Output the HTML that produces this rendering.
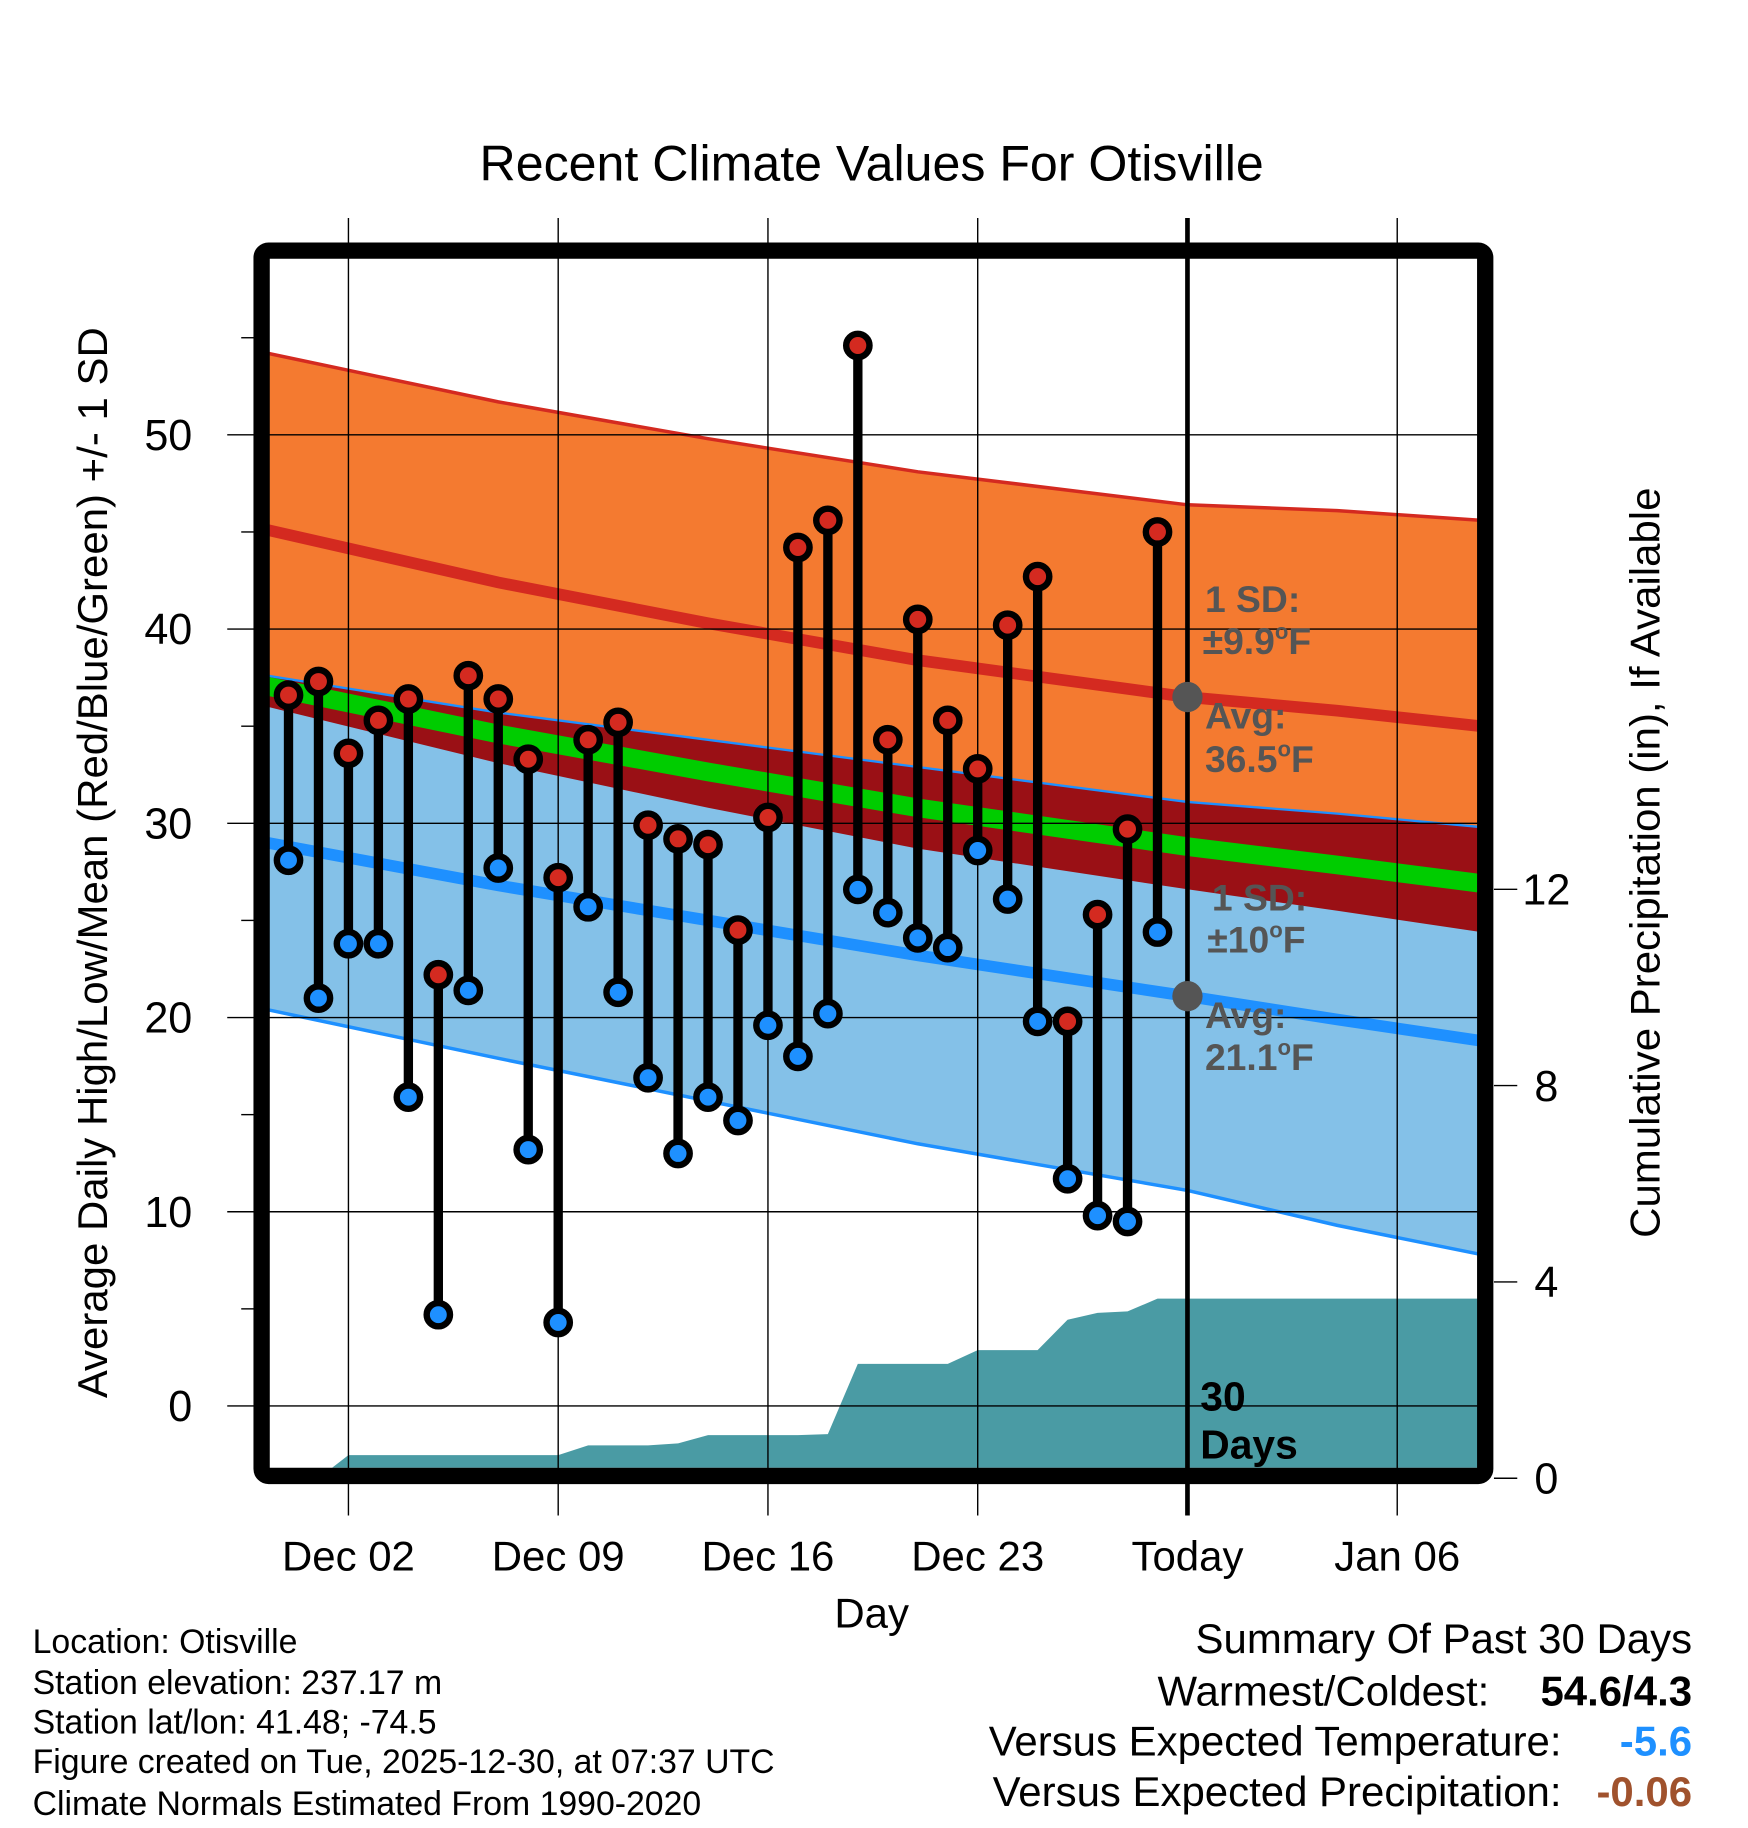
<!DOCTYPE html>
<html><head><meta charset="utf-8"><style>html,body{margin:0;padding:0;background:#fff}svg{display:block}text{font-family:"Liberation Sans",sans-serif}</style></head>
<body>
<svg id="chart" width="1748" height="1828" viewBox="0 0 1500 1568" preserveAspectRatio="none" xmlns="http://www.w3.org/2000/svg">
<defs><clipPath id="plotclip"><rect x="231" y="222" width="1037" height="1037"/></clipPath></defs>
<g id="plot" clip-path="url(#plotclip)"></g>
<g id="grid"></g>
<g id="marks"></g>
<rect x="224.5" y="215" width="1050" height="1051" rx="6" fill="none" stroke="#000" stroke-width="14"/>
<text x="748" y="155" font-size="43" text-anchor="middle">Recent Climate Values For Otisville</text>
<text transform="translate(92,740) rotate(-90)" font-size="36" text-anchor="middle">Average Daily High/Low/Mean (Red/Blue/Green) +/- 1 SD</text>
<text transform="translate(1424,740) rotate(-90)" font-size="36" text-anchor="middle">Cumulative Precipitation (in), If Available</text>
<text x="748" y="1396" font-size="36" text-anchor="middle">Day</text>
<g fill="#555" font-weight="bold" font-size="32">
<text x="1034" y="525">1 SD:</text>
<text x="1032" y="561">±9.9<tspan font-size="19" dy="-13">o</tspan><tspan dy="13">F</tspan></text>
<text x="1034" y="625">Avg:</text>
<text x="1034" y="662">36.5<tspan font-size="19" dy="-13">o</tspan><tspan dy="13">F</tspan></text>
<text x="1040" y="781">1 SD:</text>
<text x="1036" y="817">±10<tspan font-size="19" dy="-13">o</tspan><tspan dy="13">F</tspan></text>
<text x="1034" y="882">Avg:</text>
<text x="1034" y="918">21.1<tspan font-size="19" dy="-13">o</tspan><tspan dy="13">F</tspan></text>
</g>
<g font-weight="bold" font-size="35"><text x="1030" y="1210">30</text><text x="1030" y="1251">Days</text></g>
<g font-size="29">
<text x="28" y="1418">Location: Otisville</text>
<text x="28" y="1453">Station elevation: 237.17 m</text>
<text x="28" y="1487">Station lat/lon: 41.48; -74.5</text>
<text x="28" y="1521">Figure created on Tue, 2025-12-30, at 07:37 UTC</text>
<text x="28" y="1557">Climate Normals Estimated From 1990-2020</text>
</g>
<g font-size="36">
<text x="1452" y="1418" text-anchor="end">Summary Of Past 30 Days</text>
<text x="1278" y="1463" text-anchor="end">Warmest/Coldest:</text>
<text x="1452" y="1463" text-anchor="end" font-weight="bold">54.6/4.3</text>
<text x="1340" y="1506" text-anchor="end">Versus Expected Temperature:</text>
<text x="1452" y="1506" text-anchor="end" font-weight="bold" fill="#1e90ff">-5.6</text>
<text x="1340" y="1549" text-anchor="end">Versus Expected Precipitation:</text>
<text x="1452" y="1549" text-anchor="end" font-weight="bold" fill="#a0522d">-0.06</text>
</g>
</svg>
<script>
const highs=[36.6,37.3,33.6,35.3,36.4,22.2,37.6,36.4,33.3,27.2,34.3,35.2,29.9,29.2,28.9,24.5,30.3,44.2,45.6,54.6,34.3,40.5,35.3,32.8,40.2,42.7,19.8,25.3,29.7,45.0];
const lows=[28.1,21.0,23.8,23.8,15.9,4.7,21.4,27.7,13.2,4.3,25.7,21.3,16.9,13.0,15.9,14.7,19.6,18.0,20.2,26.6,25.4,24.1,23.6,28.6,26.1,19.8,11.7,9.8,9.5,24.4];
const precip=[0,0,0.47,0.47,0.47,0.47,0.47,0.47,0.47,0.47,0.67,0.67,0.67,0.71,0.88,0.88,0.88,0.88,0.9,2.33,2.33,2.33,2.33,2.61,2.61,2.61,3.23,3.37,3.40,3.66];
const normDays=[-0.7,7,14,21,30,35,39.8];
const normHigh=[45.1,42.4,40.3,38.4,36.5,35.8,35.0];
const highSD=[9.1,9.3,9.5,9.7,9.9,10.3,10.6];
const normLow=[29.0,26.8,25.0,23.2,21.1,19.9,18.8];
const lowSD=[8.6,8.9,9.3,9.7,10.0,10.6,11.0];
const xTickDays=[2,9,16,23,30,37];
const xTickLabels=["Dec 02","Dec 09","Dec 16","Dec 23","Today","Jan 06"];
const yTicks=[0,10,20,30,40,50];
const y2Ticks=[0,4,8,12];
const todayIndex=4;

const NS="http://www.w3.org/2000/svg";
const X=d=>299+(d-2)*25.714;
const Y=v=>1206-v*16.66;
const Y2=v=>1268-v*42.1;
function mk(parent,tag,attrs){const e=document.createElementNS(NS,tag);for(const k in attrs)e.setAttribute(k,attrs[k]);parent.appendChild(e);return e;}
const plot=document.getElementById('plot'),grid=document.getElementById('grid'),marks=document.getElementById('marks');
const pts=f=>normDays.map((d,i)=>X(d).toFixed(1)+','+Y(f(i)).toFixed(1));
function band(top,bot,fill,name){const p=pts(top).concat(pts(bot).reverse());const e=mk(plot,'polygon',{points:p.join(' '),fill:fill});}
function line(f,stroke,w,name){const e=mk(plot,'polyline',{points:pts(f).join(' '),fill:'none',stroke:stroke,'stroke-width':w});}
band(i=>normHigh[i]+highSD[i],i=>normHigh[i]-highSD[i],'#f47a30','high-sd-band');
band(i=>normLow[i]+lowSD[i],i=>normLow[i]-lowSD[i],'#84c1e8','low-sd-band');
band(i=>normLow[i]+lowSD[i],i=>normHigh[i]-highSD[i],'#9a1015','overlap-band');
line(i=>normHigh[i]+highSD[i],'#d42a20',3,'high-plus-sd-line');
line(i=>normLow[i]-lowSD[i],'#1e90ff',3,'low-minus-sd-line');
line(i=>normLow[i]+lowSD[i],'#1e90ff',2,'low-plus-sd-line');
line(i=>normHigh[i],'#d42a20',10,'normal-high-line');
line(i=>normLow[i],'#1e90ff',10,'normal-low-line');
line(i=>(normHigh[i]+normLow[i])/2,'#00cc00',16,'normal-mean-line');
{let p=[X(0)+','+Y2(0)];precip.forEach((v,i)=>p.push(X(i).toFixed(1)+','+Y2(v).toFixed(1)));p.push('1270,'+Y2(precip[precip.length-1]).toFixed(1));p.push('1270,1270');p.push(X(0)+',1270');
const e=mk(plot,'polygon',{points:p.join(' '),fill:'#4a9ba4'});}
yTicks.forEach(v=>{const e=mk(grid,'line',{x1:195,x2:1268,y1:Y(v),y2:Y(v),stroke:'#000','stroke-width':1.2});
const t=mk(grid,'text',{x:165,y:Y(v)+13,'font-size':37,'text-anchor':'end'});t.textContent=v;});
for(let v=5;v<=55;v+=10){const e=mk(grid,'line',{x1:207,x2:218,y1:Y(v),y2:Y(v),stroke:'#000','stroke-width':1.2});}
y2Ticks.forEach(v=>{const e=mk(grid,'line',{x1:1282,x2:1302,y1:Y2(v),y2:Y2(v),stroke:'#000','stroke-width':1.2});
const t=mk(grid,'text',{x:1327,y:Y2(v)+13,'font-size':37,'text-anchor':'middle'});t.textContent=v;});
xTickDays.forEach((d,i)=>{const today=xTickLabels[i]==='Today';const e=mk(grid,'line',{x1:X(d),x2:X(d),y1:187,y2:1300,stroke:'#000','stroke-width':today?4:1.2});
const t=mk(grid,'text',{x:X(d),y:1347,'font-size':36,'text-anchor':'middle'});t.textContent=xTickLabels[i];});
[normHigh[todayIndex],normLow[todayIndex]].forEach(v=>{const c=mk(grid,'circle',{cx:X(normDays[todayIndex]),cy:Y(v),r:13,fill:'#555'});});
highs.forEach((h,i)=>{const l=lows[i];const s=mk(marks,'line',{x1:X(i),x2:X(i),y1:Y(h),y2:Y(l),stroke:'#000','stroke-width':8});
[[h,'#d42a20','daily-high-marker'],[l,'#1e90ff','daily-low-marker']].forEach(m=>{const c=mk(marks,'circle',{cx:X(i),cy:Y(m[0]),r:10,fill:m[1],stroke:'#000','stroke-width':5.5});});});
</script>
</body></html>
